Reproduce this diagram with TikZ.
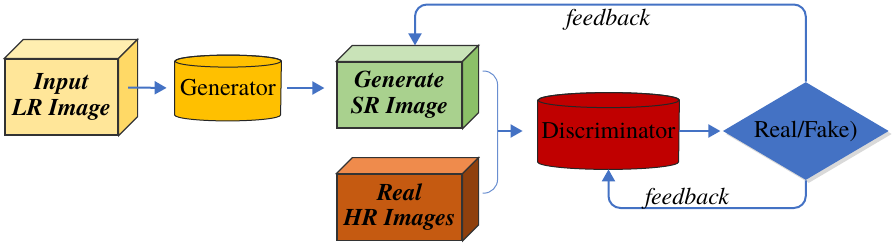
\documentclass[tikz,border=0pt]{standalone}
\usepackage{fontspec}
\IfFontExistsTF{texgyretermes-regular.otf}{%
    \setmainfont{texgyretermes}[Extension=.otf, UprightFont=*-regular, BoldFont=*-bold,
        ItalicFont=*-italic, BoldItalicFont=*-bolditalic]}{}
\usetikzlibrary{shapes.geometric,arrows.meta,positioning,calc,shadows,backgrounds}
\definecolor{msblue}{HTML}{4472C4}
\definecolor{lrfront}{HTML}{FFE699}
\definecolor{lrtop}{HTML}{FFEEB0}
\definecolor{lrside}{HTML}{FFD966}
\definecolor{genyellow}{HTML}{FFC000}
\definecolor{srfront}{HTML}{A9D18E}
\definecolor{srtop}{HTML}{C9E3B8}
\definecolor{srside}{HTML}{8CC068}
\definecolor{hrfront}{HTML}{C55A11}
\definecolor{hrtop}{HTML}{EF8B4C}
\definecolor{hrside}{HTML}{8F400D}
\definecolor{discred}{HTML}{C00000}

\begin{document}
\begin{tikzpicture}[x=0.5pt, y=-0.5pt,
    cubebox/.style={rectangle, draw=black!80, line width=0.6pt, inner sep=0pt,
        align=center, font=\bfseries\itshape\fontsize{12}{12.8}\selectfont},
    cubeedge/.style={draw=black!80, line width=0.6pt},
    drum/.style={rectangle, inner sep=0pt, font=\fontsize{12}{13}\selectfont},
    drumedge/.style={draw=black!85, line width=0.5pt},
    decision/.style={diamond, fill=msblue, minimum width=83pt, minimum height=49pt,
        aspect=1.7, inner sep=0pt, font=\fontsize{12}{13}\selectfont,
        drop shadow={opacity=0.3, shadow xshift=1.5pt, shadow yshift=-1.5pt}},
    arr/.style={-{Triangle[length=6pt, width=6.5pt]}, line width=1pt, msblue},
    fb/.style={arr, rounded corners=6pt},
    bracket/.style={draw=msblue!80, line width=0.5pt, rounded corners=7pt},
    fblabel/.style={font=\itshape\fontsize{12}{13}\selectfont}
]
    \useasboundingbox (0,0) rectangle (894,243);

    % Generator side
    \node[cubebox, fill=lrfront, minimum width=56.5pt, minimum height=38pt] (lr) at (61.5,97) {Input\\LR Image};
    \node[drum, minimum width=53pt, minimum height=32.5pt] (gen) at (228,88) {Generator};
    \node[cubebox, fill=srfront, minimum width=62.5pt, minimum height=33pt] (sr) at (399.5,95) {Generate\\SR Image};
    \node[cubebox, fill=hrfront, minimum width=62.5pt, minimum height=33pt, below=22.5pt of sr] (hr) {Real\\HR Images};

    % Discriminator side
    \node[drum, minimum width=70.5pt, minimum height=38pt] (disc) at (608.5,131) {Discriminator};
    \node[decision, right=21.5pt of disc] (rf) {Real/Fake)};

    % top and side faces of the boxes
    \foreach \c/\d/\tc/\sc in {lr/9.5pt/lrtop/lrside, sr/8pt/srtop/srside, hr/8pt/hrtop/hrside}{
        \filldraw[cubeedge, fill=\tc] (\c.north west) -- ++(\d,\d) -- ([shift={(\d,\d)}]\c.north east) -- (\c.north east) -- cycle;
        \filldraw[cubeedge, fill=\sc] (\c.north east) -- ++(\d,\d) -- ([shift={(\d,\d)}]\c.south east) -- (\c.south east) -- cycle;
    }

    % drums behind their labels
    \begin{scope}[on background layer]
        \foreach \c/\rx/\ry/\fc in {gen/26.5pt/3pt/genyellow, disc/35.25pt/3.75pt/discred}{
            \filldraw[drumedge, fill=\fc] ([yshift=-\ry]\c.north west) -- ([yshift=\ry]\c.south west)
                arc[start angle=180, end angle=360, x radius=\rx, y radius=\ry]
                -- ([yshift=-\ry]\c.north east)
                arc[start angle=0, end angle=180, x radius=\rx, y radius=\ry] -- cycle;
            \draw[drumedge] ([yshift=-\ry]\c.north) ellipse[x radius=\rx, y radius=\ry];
        }
    \end{scope}

    \draw[arr, shorten >=4pt] ([shift={(4.75pt,4.75pt)}]lr.east) -- (gen.west);
    \draw[arr, shorten <=3pt, shorten >=6pt] (gen.east) -- (gen.east -| sr.west);

    % both images go to the discriminator
    \coordinate (brtop) at ([shift={(10pt,12pt)}]sr.east);
    \coordinate (brbot) at ([shift={(10pt,7pt)}]hr.east);
    \coordinate (brmid) at ($(brtop |- disc.west)+(7.5pt,0)$);
    \draw[bracket] (brtop) -| (brmid) |- (brbot);
    \draw[arr, shorten >=7.5pt] (brmid) -- (disc.west);
    \draw[arr, shorten >=1pt] (disc.east) -- (rf.west);

    % feedback loops
    \coordinate (srin) at ([shift={(7.75pt,8pt)}]sr.north);
    \draw[fb] (rf.north) |- (srin |- 0,4.5) -- (srin);
    \draw[fb] (rf.south) |- (disc.south |- 0,208) -- (disc.south);
    \node[fblabel] (fbtop) at (608,20) {feedback};
    \node[fblabel] (fbbot) at (687,199) {feedback};
\end{tikzpicture}
\end{document}
